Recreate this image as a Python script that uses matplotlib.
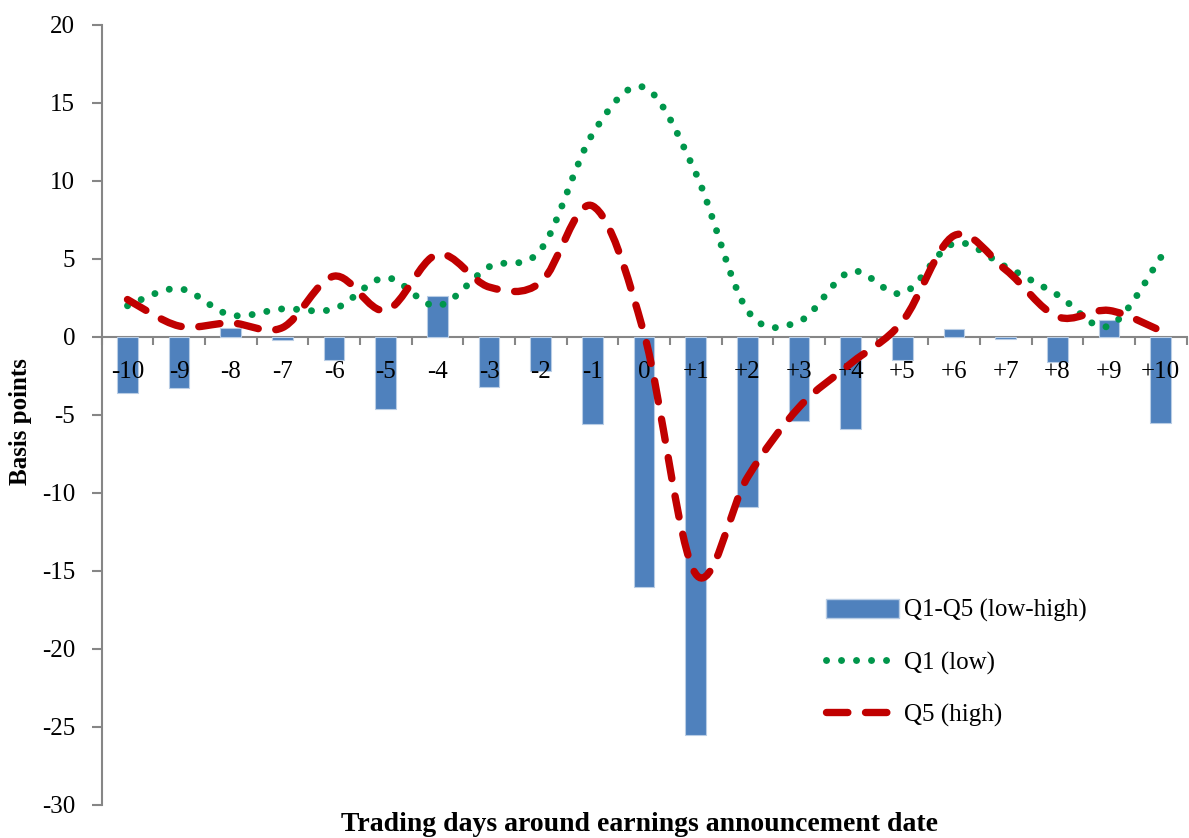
import numpy as np
import matplotlib
matplotlib.use("Agg")
import matplotlib.pyplot as plt
from matplotlib.path import Path
from matplotlib.patches import PathPatch, Patch
from matplotlib.lines import Line2D

plt.rcParams['font.family'] = ['Liberation Serif', 'DejaVu Serif']
plt.rcParams['axes.unicode_minus'] = False

# Datos
dias = ['-10', '-9', '-8', '-7', '-6', '-5', '-4', '-3', '-2', '-1', '0',
        '+1', '+2', '+3', '+4', '+5', '+6', '+7', '+8', '+9', '+10']
q1_q5 = [-3.6, -3.3, 0.6, -0.2, -1.5, -4.6, 2.6, -3.2, -2.2, -5.6, -16.0,
         -25.5, -10.9, -5.4, -5.9, -1.5, 0.5, -0.1, -1.6, 1.1, -5.5]
q1 = [2.0, 3.1, 1.4, 1.8, 1.8, 3.8, 2.0, 4.5, 5.6, 13.0, 16.0,
      10.5, 1.7, 1.0, 4.2, 2.8, 6.0, 4.5, 2.7, 0.7, 5.1]
q5 = [2.4, 0.7, 0.9, 0.6, 3.9, 1.7, 5.3, 3.2, 3.5, 8.4, 0.2,
      -15.2, -9.0, -4.5, -1.7, 1.0, 6.5, 4.3, 1.3, 1.7, 0.4]

azul = '#4F81BD'
verde = '#00964B'
rojo = '#C00000'
gris = '#868686'


def curva_suave(x, y):
    # linea suavizada tipo Excel (Bezier cubica)
    n = len(x)
    verts = [(x[0], y[0])]
    codes = [Path.MOVETO]
    for i in range(n - 1):
        a = max(i - 1, 0)
        b = min(i + 2, n - 1)
        c1 = (x[i] + (x[i + 1] - x[a]) / 6, y[i] + (y[i + 1] - y[a]) / 6)
        c2 = (x[i + 1] - (x[b] - x[i]) / 6, y[i + 1] - (y[b] - y[i]) / 6)
        verts += [c1, c2, (x[i + 1], y[i + 1])]
        codes += [Path.CURVE4] * 3
    return Path(verts, codes)


fig = plt.figure(figsize=(11.89, 8.38), dpi=100)
ax = fig.add_axes([0.0855, 0.0394, 0.9125, 0.9308])
ax.set_axisbelow(False)

x = np.arange(len(dias))
ax.bar(x, q1_q5, width=0.4, color=azul, edgecolor='#B9CDE5', linewidth=0.8,
       zorder=2)

lw_q1, ls_q1 = 5.0, (0, (0.01, 2.15))
lw_q5, ls_q5 = 5.3, (0, (2.9, 2.4))

ax.add_patch(PathPatch(curva_suave(x, q1), facecolor='none', zorder=3,
                       edgecolor=verde, linewidth=lw_q1, linestyle=ls_q1,
                       capstyle='round'))
ax.add_patch(PathPatch(curva_suave(x, q5), facecolor='none', zorder=4,
                       edgecolor=rojo, linewidth=lw_q5, linestyle=ls_q5,
                       capstyle='round'))

ax.set_xlim(-0.5, len(dias) - 0.5)
ax.set_ylim(-30, 20)
ax.set_yticks(np.arange(-30, 21, 5))
ax.set_xticks(x)
ax.set_xticklabels(dias)
ax.set_xticks(np.arange(-0.5, len(dias), 1), minor=True)

for s in ['top', 'right']:
    ax.spines[s].set_visible(False)
ax.spines['bottom'].set_position(('data', 0))
ax.spines['bottom'].set_color(gris)
ax.spines['left'].set_color(gris)
ax.spines['bottom'].set_linewidth(1.5)
ax.spines['left'].set_linewidth(1.5)
ax.spines['bottom'].set_zorder(1)

ax.tick_params(axis='x', which='major', length=0, pad=17, labelsize=18)
ax.tick_params(axis='x', which='minor', length=6, width=1.5, color=gris,
               direction='out')
ax.tick_params(axis='y', length=7, width=1.5, color=gris, direction='out',
               pad=12, labelsize=18)

fig.text(0.538, 1 / 838, 'Trading days around earnings announcement date',
         ha='center', va='bottom', fontsize=20, fontweight='bold')
fig.text(0.017, 0.497, 'Basis points', ha='center', va='center',
         rotation=90, fontsize=18, fontweight='bold')

handles = [Patch(facecolor=azul, edgecolor='#B9CDE5'),
           Line2D([], [], color=verde, linewidth=lw_q1, linestyle=ls_q1,
                  dash_capstyle='round'),
           Line2D([], [], color=rojo, linewidth=lw_q5, linestyle=ls_q5,
                  dash_capstyle='round')]
etiquetas = ['Q1-Q5 (low-high)', 'Q1 (low)', 'Q5 (high)']
ax.legend(handles, etiquetas, loc='upper left', frameon=False, fontsize=18,
          bbox_to_anchor=(813 / 1189, 1 - 586 / 838),
          bbox_transform=fig.transFigure, handlelength=2.95,
          handletextpad=0.2, labelspacing=1.15, borderpad=0, handleheight=0.8)

fig.savefig('out.png', dpi=100)
